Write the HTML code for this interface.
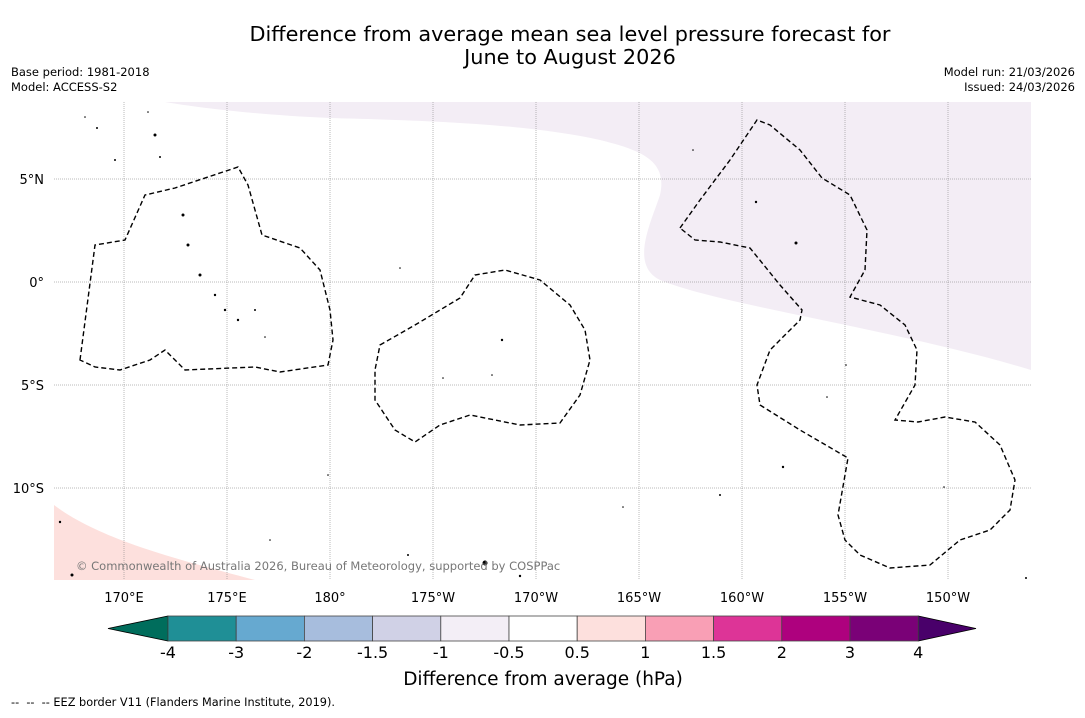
<!DOCTYPE html>
<html><head><meta charset="utf-8"><style>
body{margin:0;background:#fff;width:1085px;height:713px;overflow:hidden;font-family:"Liberation Sans","DejaVu Sans",sans-serif}
</style></head><body>
<svg width="1085" height="713" xmlns="http://www.w3.org/2000/svg" font-family="DejaVu Sans, Liberation Sans, sans-serif">
<text x="570" y="41" font-size="20.8" text-anchor="middle">Difference from average mean sea level pressure forecast for</text>
<text x="570" y="64" font-size="20.8" text-anchor="middle">June to August 2026</text>
<text x="11" y="76" font-size="11.5">Base period: 1981-2018</text>
<text x="11" y="91" font-size="11.5">Model: ACCESS-S2</text>
<text x="1075" y="76" font-size="11.5" text-anchor="end">Model run: 21/03/2026</text>
<text x="1075" y="91" font-size="11.5" text-anchor="end">Issued: 24/03/2026</text>
<g>
<clipPath id="mc"><rect x="54" y="102" width="977" height="478"/></clipPath>
<g clip-path="url(#mc)">
<path fill="#f3edf5" d="M165,102 L1031,102 L1031,370 C900,330 720,305 660,280 C630,265 650,225 660,195 C668,160 640,150 600,140 C520,122 400,120 330,118 C260,115 200,108 165,102Z"/>
<path fill="#fde0dd" d="M54,505 C100,540 180,560 255,580 L54,580Z"/>
<g id="grid" stroke="#777" stroke-width="0.5" stroke-dasharray="1,1"></g>
<g fill="none" stroke="#000" stroke-width="1.4" stroke-dasharray="5,3">
<path d="M80,360 L95,245 L125,240 L145,195 L175,188 L238,167 L248,185 L262,235 L300,248 L320,270 L330,310 L333,340 L328,365 L280,372 L255,367 L185,370 L165,350 L150,360 L120,370 L95,367Z"/>
<path d="M380,345 L415,325 L460,298 L475,275 L505,270 L540,280 L570,305 L585,330 L590,360 L580,395 L560,423 L520,425 L470,415 L440,425 L415,442 L395,430 L375,400 L375,370Z"/>
<path d="M680,228 L700,200 L730,160 L757,120 L770,125 L800,150 L822,178 L850,195 L867,230 L865,270 L850,297 L880,305 L905,325 L917,350 L915,385 L895,420 L918,422 L945,417 L975,422 L1000,445 L1015,480 L1010,510 L990,530 L960,540 L930,565 L890,568 L860,555 L845,540 L838,515 L848,458 L800,430 L760,405 L757,385 L770,350 L800,320 L802,310 L780,285 L750,248 L720,242 L695,240Z"/>
</g>
<g fill="#000">
<circle cx="85" cy="117" r="0.8"/><circle cx="97" cy="128" r="1"/><circle cx="148" cy="112" r="0.8"/><circle cx="155" cy="135" r="1.5"/><circle cx="160" cy="157" r="1"/><circle cx="115" cy="160" r="1"/><circle cx="183" cy="215" r="1.5"/><circle cx="188" cy="245" r="1.5"/><circle cx="200" cy="275" r="1.5"/><circle cx="215" cy="295" r="1.2"/><circle cx="225" cy="310" r="1.2"/><circle cx="238" cy="320" r="1.2"/><circle cx="255" cy="310" r="1"/><circle cx="265" cy="337" r="0.8"/><circle cx="400" cy="268" r="0.8"/><circle cx="502" cy="340" r="1.2"/><circle cx="443" cy="378" r="0.8"/><circle cx="492" cy="375" r="0.8"/><circle cx="756" cy="202" r="1.2"/><circle cx="796" cy="243" r="1.5"/><circle cx="693" cy="150" r="0.8"/><circle cx="846" cy="365" r="0.8"/><circle cx="827" cy="397" r="0.8"/><circle cx="783" cy="467" r="1.2"/><circle cx="720" cy="495" r="1"/><circle cx="623" cy="507" r="0.8"/><circle cx="60" cy="522" r="1.2"/><circle cx="485" cy="563" r="2.5"/><circle cx="520" cy="576" r="1.2"/><circle cx="408" cy="555" r="1"/><circle cx="270" cy="540" r="0.8"/><circle cx="328" cy="475" r="0.8"/><circle cx="944" cy="487" r="0.8"/><circle cx="1026" cy="578" r="1"/><circle cx="72" cy="575" r="1.5"/>
</g>
</g>
<text x="76" y="570" font-size="11.5" fill="#777">© Commonwealth of Australia 2026, Bureau of Meteorology, supported by COSPPac</text>
<g id="ticks" font-size="13"></g>
</g>
<g id="cbar"></g>
<text x="543" y="685" font-size="18.5" text-anchor="middle">Difference from average (hPa)</text>
<text x="11" y="706" font-size="11.3">--&#160;&#160;--&#160;&#160;-- EEZ border V11 (Flanders Marine Institute, 2019).</text>
</svg>
<script>
const lonLabels=["170°E","175°E","180°","175°W","170°W","165°W","160°W","155°W","150°W"];
const lonValues=[170,175,180,185,190,195,200,205,210];
const latLabels=["5°N","0°","5°S","10°S"];
const latValues=[5,0,-5,-10];
const cbLevels=["-4","-3","-2","-1.5","-1","-0.5","0.5","1","1.5","2","3","4"];
const cbColors=["#1f8f96","#66a9d0","#a7bddd","#d0d1e6","#f3eef6","#ffffff","#fde0dd","#f99fb5","#dd3497","#ae017e","#7a0177"];
const NS="http://www.w3.org/2000/svg";
const xOf=lon=>124+(lon-170)*20.6;
const yOf=lat=>282-lat*20.6;
function mk(tag,at,parent){const e=document.createElementNS(NS,tag);for(const k in at)e.setAttribute(k,at[k]);parent.appendChild(e);return e;}
const grid=document.getElementById('grid'),ticks=document.getElementById('ticks');
lonValues.forEach((v,i)=>{const x=xOf(v);
const l=mk('line',{x1:x,x2:x,y1:102,y2:580},grid);


const t=mk('text',{x:x,y:602,'text-anchor':'middle'},ticks);t.textContent=lonLabels[i];

});
latValues.forEach((v,i)=>{const y=yOf(v);
const l=mk('line',{x1:54,x2:1031,y1:y,y2:y},grid);


const t=mk('text',{x:44,y:y+5,'text-anchor':'end'},ticks);t.textContent=latLabels[i];

});
const cb=document.getElementById('cbar');const x0=168,w=68.2,y0=616,h=25;
const lt=mk('polygon',{points:`${x0},${y0} ${x0},${y0+h} 108,${y0+h/2}`,fill:'#006d5c',stroke:'#000','stroke-width':0.8},cb);


const xe=x0+w*cbColors.length;
const rt=mk('polygon',{points:`${xe},${y0} ${xe},${y0+h} 976,${y0+h/2}`,fill:'#49006a',stroke:'#000','stroke-width':0.8},cb);


cbColors.forEach((c,i)=>{const r=mk('rect',{x:x0+i*w,y:y0,width:w,height:h,fill:c,stroke:'#444','stroke-width':0.8},cb);

});
cbLevels.forEach((s,i)=>{const t=mk('text',{x:x0+i*w,y:658,'font-size':16,'text-anchor':'middle'},cb);t.textContent=s;

});
</script>
</body></html>
